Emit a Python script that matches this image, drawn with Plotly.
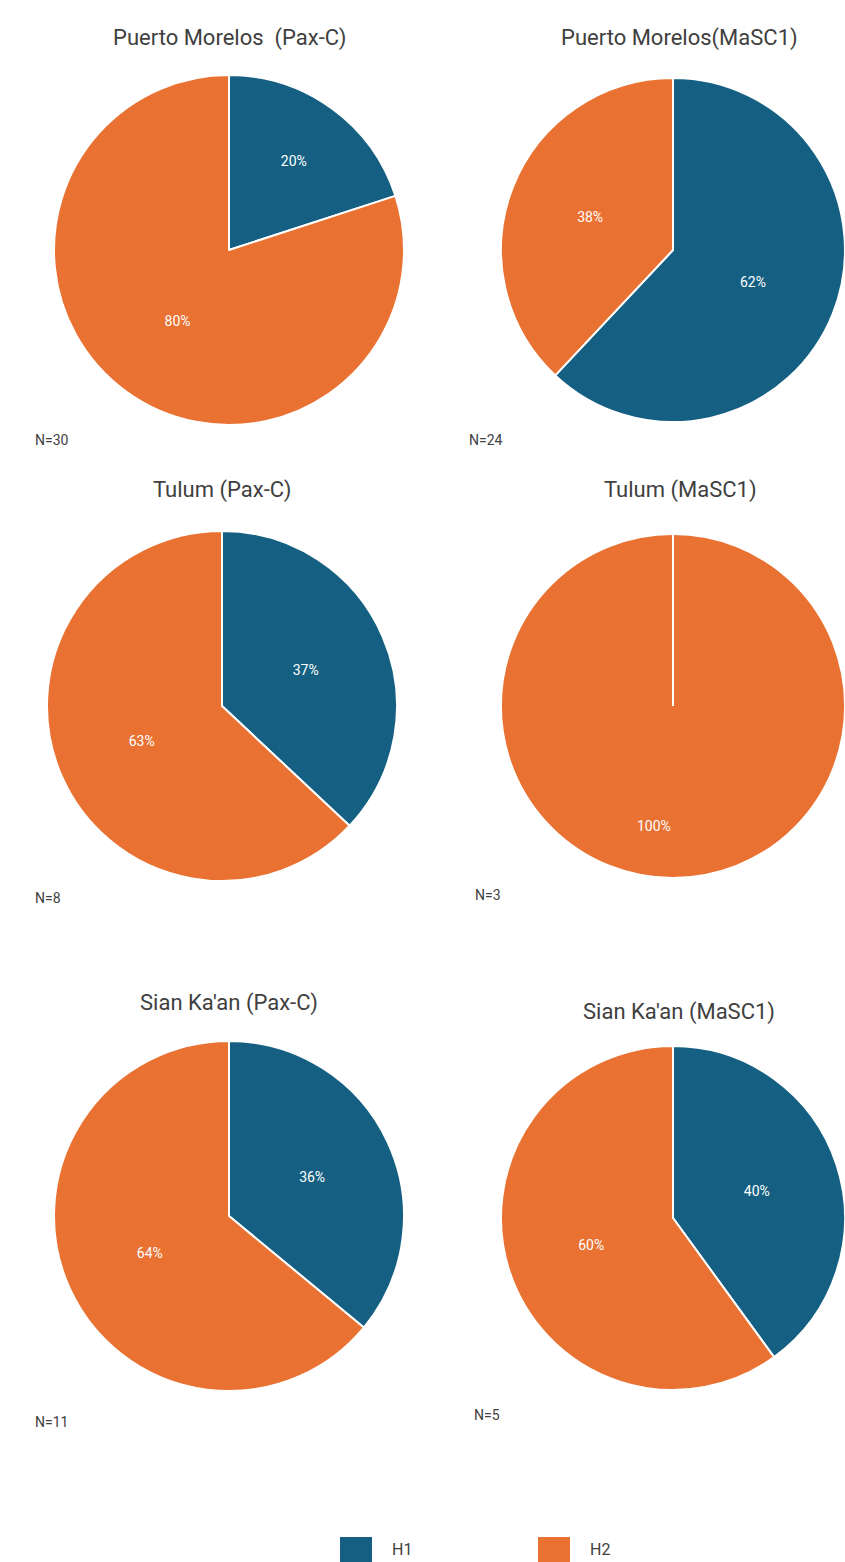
import plotly.graph_objects as go

# ---- data ----
titles = ["Puerto Morelos  (Pax-C)", "Puerto Morelos(MaSC1)",
          "Tulum (Pax-C)", "Tulum (MaSC1)",
          "Sian Ka'an (Pax-C)", "Sian Ka'an (MaSC1)"]
labels = ["H1", "H2"]
h1_pct = [20, 62, 37, 0, 36, 40]
h2_pct = [80, 38, 63, 100, 64, 60]
n_labels = ["N=30", "N=24", "N=8", "N=3", "N=11", "N=5"]
colors = ["#156082", "#E97132"]

W, H = 845, 1562
FONT = "Roboto, sans-serif"
# pixel layout: (cx, cy, r)
geom = [(229, 250, 175), (673, 250, 172),
        (222, 706, 175), (673, 706, 172),
        (229, 1216, 175), (673, 1218, 172)]
title_pos = [(229, 38), (679, 38), (222, 490), (680, 490), (229, 1003), (679, 1012)]
n_pos = [(33, 440), (467, 440), (33, 898), (473, 895), (33, 1422), (472, 1415)]
legend_x = [340, 538]   # left edge of each legend swatch (px)
legend_y = (1537, 1562)

fig = go.Figure()
shapes = []
ann = []
for i in range(6):
    cx, cy, r = geom[i]
    vals = [h1_pct[i], h2_pct[i]]
    full = max(vals) == sum(vals)
    txt = [f"{v}%" if (v > 0 and not full) else "" for v in vals]
    fig.add_trace(go.Pie(
        labels=labels, values=vals, text=txt, textinfo="text",
        sort=False, direction="clockwise", rotation=0,
        marker=dict(colors=colors, line=dict(color="white", width=2)),
        textposition="inside", insidetextorientation="horizontal",
        textfont=dict(color="white", size=14, family=FONT),
        domain=dict(x=[(cx - r) / W, min(1, (cx + r) / W)],
                    y=[1 - (cy + r) / H, 1 - (cy - r) / H]),
        showlegend=False, hoverinfo="label+percent",
    ))
    if full:
        # zero-width slice boundary at 12 o'clock and label at the slice's mid-angle (bottom)
        shapes.append(dict(type="line", xref="paper", yref="paper",
                           x0=cx / W, x1=cx / W, y0=1 - cy / H, y1=1 - (cy - r) / H,
                           line=dict(color="white", width=2)))
        ann.append(dict(text=f"{max(vals)}%", x=cx / W, y=1 - (cy + 0.7 * r) / H,
                        xref="paper", yref="paper", showarrow=False,
                        font=dict(size=14, color="white", family=FONT)))

for i in range(6):
    tx, ty = title_pos[i]
    ann.append(dict(text=titles[i], x=tx / W, y=1 - ty / H, xref="paper", yref="paper",
                    xanchor="center", yanchor="middle", showarrow=False,
                    font=dict(size=22, color="#404040", family=FONT)))
    nx, ny = n_pos[i]
    ann.append(dict(text=n_labels[i], x=nx / W, y=1 - ny / H, xref="paper", yref="paper",
                    xanchor="left", yanchor="middle", showarrow=False,
                    font=dict(size=14, color="#404040", family=FONT)))

# legend (swatches + labels)
for lx, lab, col in zip(legend_x, labels, colors):
    shapes.append(dict(type="rect", xref="paper", yref="paper",
                       x0=lx / W, x1=(lx + 32) / W,
                       y0=1 - legend_y[1] / H, y1=1 - legend_y[0] / H,
                       fillcolor=col, line=dict(width=0)))
    ann.append(dict(text=lab, x=(lx + 50) / W, y=1 - 1549 / H, xref="paper", yref="paper",
                    xanchor="left", yanchor="middle", showarrow=False,
                    font=dict(size=16, color="#404040", family=FONT)))

fig.update_layout(
    width=W, height=H, margin=dict(l=0, r=0, t=0, b=0),
    paper_bgcolor="white", plot_bgcolor="white",
    annotations=ann, shapes=shapes, showlegend=False,
)
fig.write_html("out.html", config={"displayModeBar": False},
               post_script="document.body.style.margin='0';document.body.style.overflow='hidden';")
